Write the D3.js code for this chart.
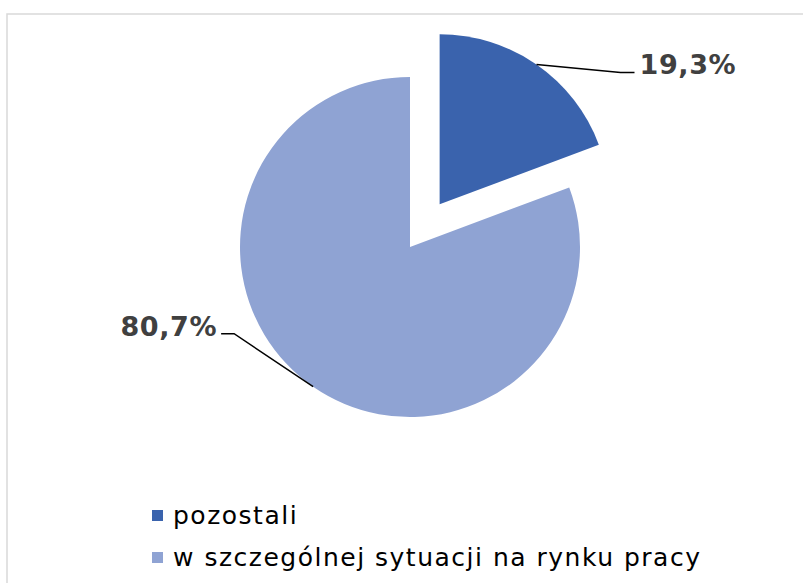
<!DOCTYPE html>
<html>
<head>
<meta charset="utf-8">
<script src="https://cdn.jsdelivr.net/npm/d3@7"></script>
<style>
  body { margin: 0; background: #fff; }
  svg { display: block; font-family: "DejaVu Sans", Verdana, sans-serif; }
</style>
</head>
<body>
<script>
// data
var categories = ["pozostali", "w szczególnej sytuacji na rynku pracy"];
var values = [19.3, 80.7];
var labels = ["19,3%", "80,7%"];
var colors = ["#3a63ad", "#8fa3d3"];

var width = 803, height = 583;
var cx = 410, cy = 247, radius = 170, explode = 52;

var svg = d3.select("body").append("svg")
  .attr("width", width)
  .attr("height", height);

// chart frame
svg.append("rect")
  .attr("x", 7).attr("y", 14)
  .attr("width", 820).attr("height", 600)
  .attr("fill", "none")
  .attr("stroke", "#d9d9d9")
  .attr("stroke-width", 1.5);

var pie = d3.pie().sort(null).value(function(d) { return d; });
var arcs = pie(values);
var arc = d3.arc().innerRadius(0).outerRadius(radius);

function offset(d, i) {
  // only the first slice is pulled out
  if (i !== 0) return [0, 0];
  var a = (d.startAngle + d.endAngle) / 2;
  return [Math.sin(a) * explode, -Math.cos(a) * explode];
}

var g = svg.append("g").attr("transform", "translate(" + cx + "," + cy + ")");

g.selectAll("path.slice")
  .data(arcs)
  .enter()
  .append("path")
  .attr("class", "slice")
  .attr("d", arc)
  .attr("fill", function(d, i) { return colors[i]; })
  .attr("transform", function(d, i) {
    var o = offset(d, i);
    return "translate(" + o[0] + "," + o[1] + ")";
  });

// leader lines + labels
arcs.forEach(function(d, i) {
  var o = offset(d, i);
  var a = (d.startAngle + d.endAngle) / 2;
  var sx = o[0] + Math.sin(a) * radius, sy = o[1] - Math.cos(a) * radius;
  var right = Math.sin(a) > 0;
  var pts, tx, ty;
  if (right) {
    pts = [[sx, sy], [sx + 84, sy + 8], [sx + 98, sy + 8]];
    tx = sx + 103; ty = sy + 9;
  } else {
    pts = [[sx, sy], [sx - 79, sy - 53], [sx - 92, sy - 53]];
    tx = sx - 96; ty = sy - 51;
  }
  g.append("path")
    .attr("d", d3.line()(pts))
    .attr("fill", "none")
    .attr("stroke", "#000")
    .attr("stroke-width", 1.5);
  g.append("text")
    .attr("x", tx).attr("y", ty)
    .attr("text-anchor", right ? "start" : "end")
    .attr("font-size", 27)
    .attr("font-weight", "bold")
    .attr("letter-spacing", 0.6)
    .attr("fill", "#404040")
    .text(labels[i]);
});

// legend
var legend = svg.selectAll("g.legend")
  .data(categories)
  .enter()
  .append("g")
  .attr("class", "legend")
  .attr("transform", function(d, i) { return "translate(152," + (510 + i * 42) + ")"; });

legend.append("rect")
  .attr("width", 11).attr("height", 11)
  .attr("fill", function(d, i) { return colors[i]; });

legend.append("text")
  .attr("x", 21).attr("y", 14)
  .attr("font-size", 25)
  .attr("letter-spacing", 1.5)
  .attr("fill", "#000")
  .text(function(d) { return d; });
</script>
</body>
</html>
